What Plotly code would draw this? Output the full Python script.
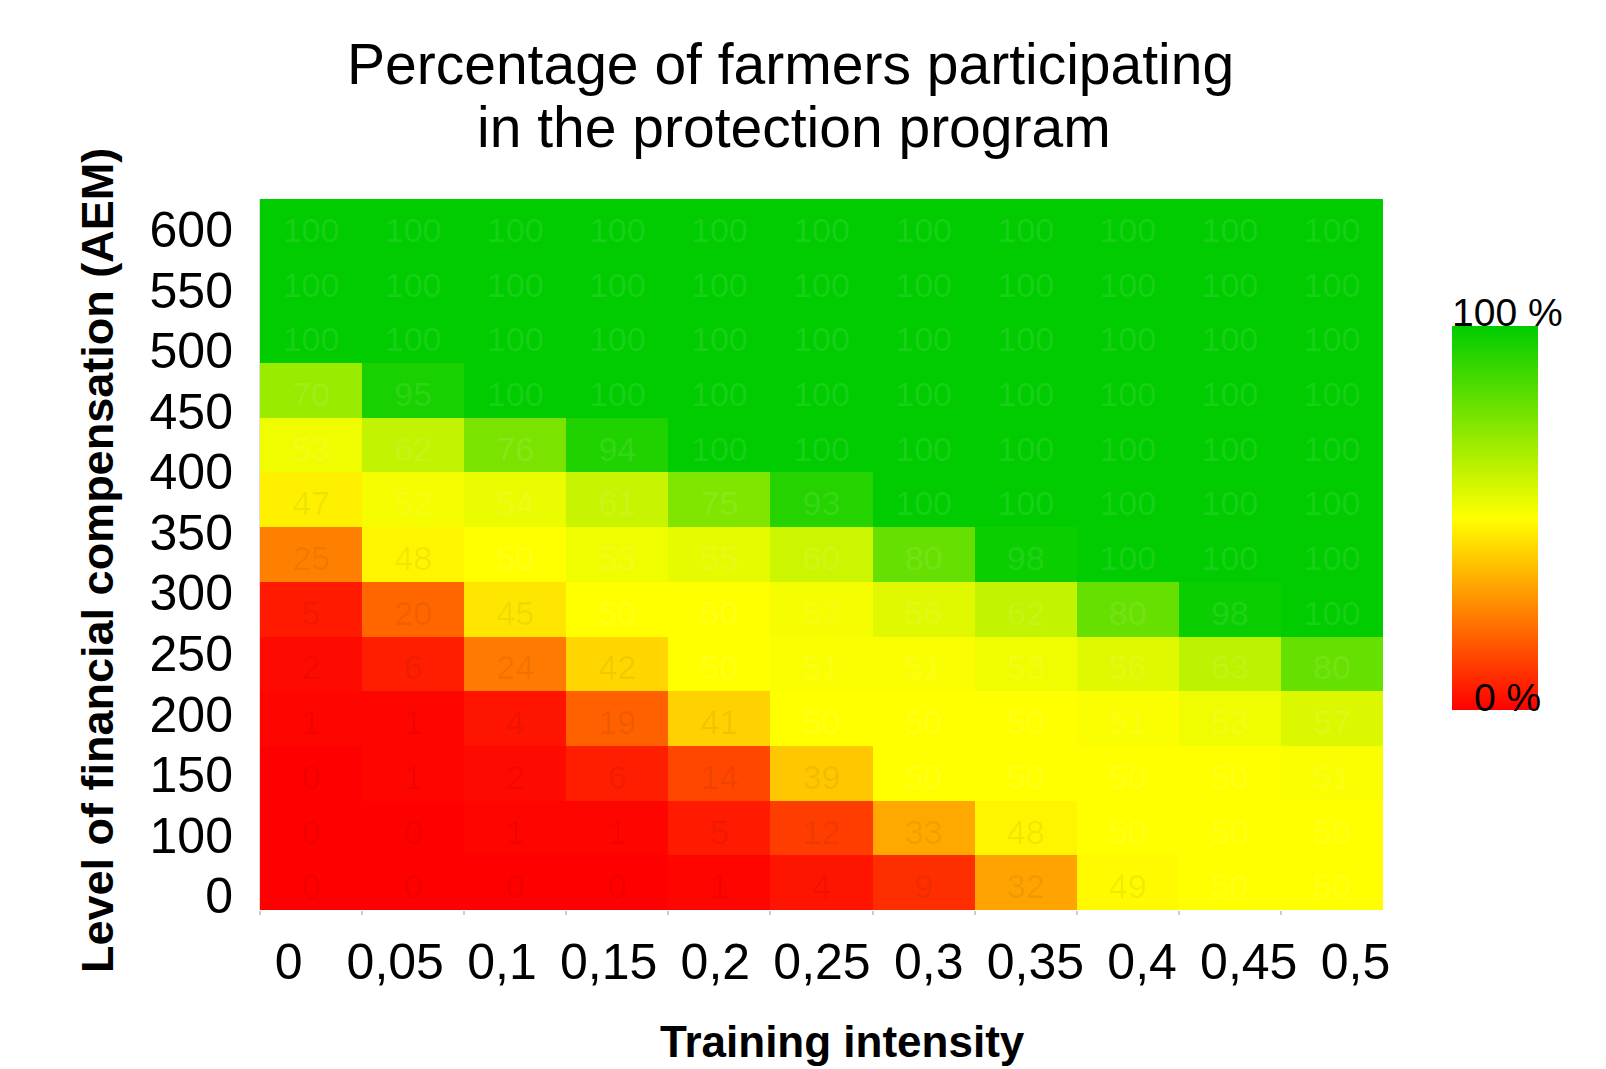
import numpy as np
import plotly.graph_objects as go

# ---------------- data ----------------
x_labels = ["0", "0,05", "0,1", "0,15", "0,2", "0,25", "0,3", "0,35", "0,4", "0,45", "0,5"]
y_labels = ["0", "100", "150", "200", "250", "300", "350", "400", "450", "500", "550", "600"]

# rows listed from top (highest compensation) to bottom
row_top_01 = [100, 100, 100, 100, 100, 100, 100, 100, 100, 100, 100]
row_top_02 = [100, 100, 100, 100, 100, 100, 100, 100, 100, 100, 100]
row_top_03 = [100, 100, 100, 100, 100, 100, 100, 100, 100, 100, 100]
row_top_04 = [70, 95, 100, 100, 100, 100, 100, 100, 100, 100, 100]
row_top_05 = [53, 62, 76, 94, 100, 100, 100, 100, 100, 100, 100]
row_top_06 = [47, 52, 54, 61, 75, 93, 100, 100, 100, 100, 100]
row_top_07 = [25, 48, 50, 53, 55, 60, 80, 98, 100, 100, 100]
row_top_08 = [5, 20, 45, 50, 50, 52, 56, 62, 80, 98, 100]
row_top_09 = [2, 6, 24, 42, 50, 51, 51, 53, 56, 63, 80]
row_top_10 = [1, 1, 4, 19, 41, 50, 50, 50, 51, 53, 57]
row_top_11 = [0, 1, 2, 6, 14, 39, 50, 50, 50, 50, 51]
row_top_12 = [0, 0, 1, 1, 5, 12, 33, 48, 50, 50, 50]
row_top_13 = [0, 0, 0, 0, 1, 4, 9, 32, 49, 50, 50]

rows_top_down = [row_top_01, row_top_02, row_top_03, row_top_04, row_top_05, row_top_06,
                 row_top_07, row_top_08, row_top_09, row_top_10, row_top_11, row_top_12,
                 row_top_13]

z = np.array(rows_top_down[::-1])          # bottom row first
n_rows, n_cols = z.shape
col_idx = np.arange(n_cols)
row_idx = np.arange(n_rows)

colorscale = [[0.0, "#FF0000"], [0.5, "#FFFF00"], [1.0, "#00CC00"]]

# ---------------- figure ----------------
OFF = 8                       # page body margin
W, H = 1606 - OFF, 1069 - OFF
L, R, T, B = 260 - OFF, 223, 199 - OFF, 159
pw, ph = W - L - R, H - T - B

def px_x(p):                  # page pixel -> paper x
    return (p - OFF - L) / pw

def px_y(p):                  # page pixel -> paper y
    return (H - B - (p - OFF)) / ph

fig = go.Figure()

fig.add_trace(go.Heatmap(
    z=z, x=col_idx, y=row_idx,
    zmin=0, zmax=100,
    colorscale=colorscale,
    hoverinfo="skip",
    colorbar=dict(
        thicknessmode="pixels", thickness=86,
        lenmode="pixels", len=384,
        x=px_x(1452), xanchor="left", xpad=0,
        y=px_y(518), yanchor="middle", ypad=0,
        outlinewidth=0, showticklabels=False, ticks="",
    ),
))

# faint value labels inside cells (nudged slightly below cell centre, as in the original)
TEXT_NUDGE = 0.13
xx, yy = np.meshgrid(col_idx, row_idx)
vals = z.flatten()
txt_colors = ["rgba(255,255,255,0.10)" if v >= 50 else "rgba(0,0,0,0.06)" for v in vals]
fig.add_trace(go.Scatter(
    x=xx.flatten(), y=yy.flatten() - TEXT_NUDGE, mode="text",
    text=[str(v) for v in vals],
    textfont=dict(family="Liberation Sans, Arial, sans-serif", size=34, color=txt_colors),
    hoverinfo="skip", showlegend=False,
))

tick_font = dict(family="Liberation Sans, Arial, sans-serif", size=50, color="black")

fig.update_xaxes(
    range=[-0.5, n_cols - 0.5],
    tickmode="array",
    tickvals=list(np.linspace(-0.22, 10.23, len(x_labels))),
    ticktext=x_labels,
    ticks="", tickfont=tick_font,
    ticklabelstandoff=18,
    showgrid=False, zeroline=False, showline=False,
    minor=dict(tickmode="array", tickvals=list(np.arange(-0.5, n_cols - 1, 1.0)),
               ticks="outside", ticklen=4, tickwidth=2, tickcolor="#cccccc"),
)
fig.update_yaxes(
    range=[-0.5, n_rows - 0.5],
    tickmode="array",
    tickvals=list(np.linspace(-0.24, 11.94, len(y_labels))),
    ticktext=y_labels,
    ticks="", tickfont=tick_font,
    ticklabelstandoff=16,
    showgrid=False, zeroline=False,
    showline=True, linecolor="#dddddd", linewidth=1,
)

ann_font = dict(family="Liberation Sans, Arial, sans-serif", color="black")
annotations = [
    dict(text="Percentage of farmers participating", x=px_x(790), y=px_y(64),
         font=dict(size=57, **ann_font)),
    dict(text="in the protection program", x=px_x(794), y=px_y(127),
         font=dict(size=57, **ann_font)),
    dict(text="<b>Training intensity</b>", x=px_x(842), y=px_y(1041),
         font=dict(size=44, **ann_font)),
    dict(text="<b>Level of financial compensation (AEM)</b>", x=px_x(97), y=px_y(561),
         textangle=-90, font=dict(size=45, **ann_font)),
    dict(text="100 %", x=px_x(1507), y=px_y(312), font=dict(size=39, **ann_font)),
    dict(text="0 %", x=px_x(1507), y=px_y(697), font=dict(size=39, **ann_font)),
]
for a in annotations:
    a.update(xref="paper", yref="paper", xanchor="center", yanchor="middle",
             showarrow=False)

fig.update_layout(
    width=W, height=H,
    margin=dict(l=L, r=R, t=T, b=B),
    paper_bgcolor="white", plot_bgcolor="white",
    annotations=annotations,
    showlegend=False,
)

fig.write_html("out.html")
